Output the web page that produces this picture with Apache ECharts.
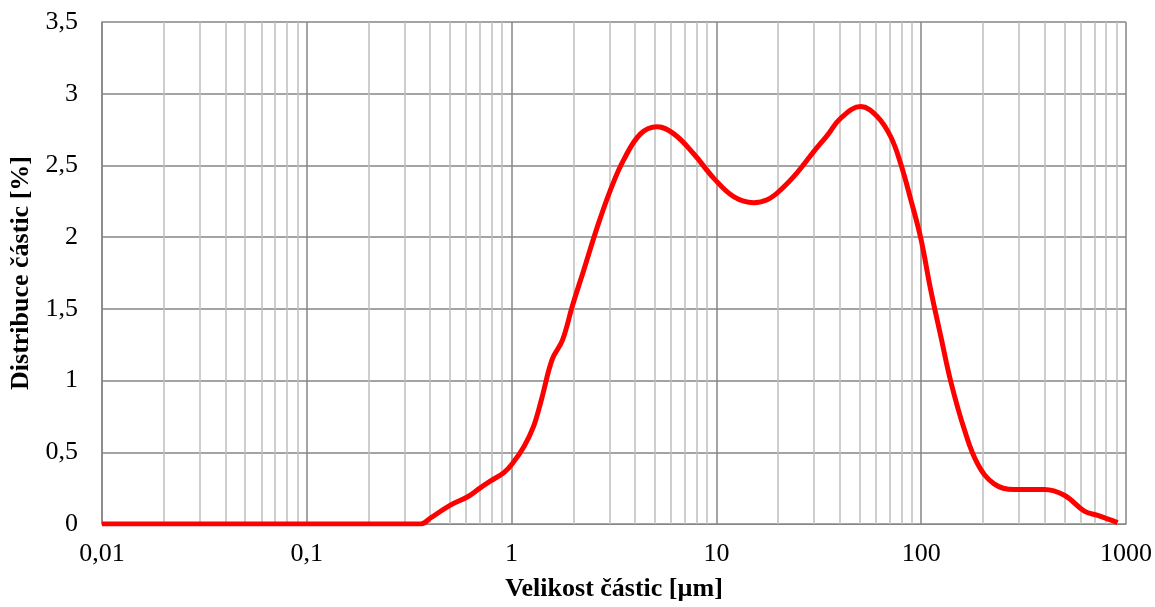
<!DOCTYPE html>
<html>
<head>
<meta charset="utf-8">
<script src="https://cdn.jsdelivr.net/npm/echarts@6/dist/echarts.min.js"></script>
<style>
  html, body { margin: 0; padding: 0; background: #fff; }
  #chart { width: 1155px; height: 607px; }
</style>
</head>
<body>
<div id="chart"></div>
<script>
// velikost částic [µm] a distribuce [%]
var velikost = [0.01, 0.36, 0.40, 0.50, 0.61, 0.70, 0.79, 0.92, 1.02, 1.15, 1.28, 1.40, 1.58, 1.77, 1.98,
  2.25, 2.62, 3.04, 3.53, 4.26, 5.14, 6.20, 7.76, 9.72, 12.2, 15.2, 17.7, 20.6, 24.8, 30.0,
  34.8, 40.5, 50.7, 61.1, 71.0, 79.5, 89.0, 99.6, 111, 125, 139.6, 162.3, 188.5, 227, 284, 399,
  500, 626, 728, 910];
var distribuce = [0, 0, 0.04, 0.13, 0.19, 0.25, 0.30, 0.36, 0.43, 0.54, 0.68, 0.87, 1.15, 1.28, 1.52,
  1.77, 2.07, 2.33, 2.54, 2.72, 2.77, 2.72, 2.58, 2.41, 2.28, 2.24, 2.26, 2.33, 2.45, 2.60,
  2.71, 2.83, 2.91, 2.84, 2.70, 2.51, 2.26, 1.99, 1.64, 1.30, 0.99, 0.66, 0.42, 0.28, 0.24, 0.24,
  0.20, 0.09, 0.06, 0.01];
var osaX = { min: 0.01, max: 1000 };
var osaY = { min: 0, max: 3.5, interval: 0.5 };

var body = [];
for (var i = 0; i < velikost.length; i++) {
  body.push([velikost[i], distribuce[i]]);
}

function carka(v) {
  return String(Number(v.toPrecision(6))).replace('.', ',');
}

var font = '"Liberation Serif", "Times New Roman", serif';
var myChart = echarts.init(document.getElementById('chart'));
var option = {
  backgroundColor: '#fff',
  animation: false,
  grid: { left: 102, right: 29, top: 22, bottom: 83, containLabel: false, outerBoundsMode: 'none' },
  xAxis: {
    type: 'log',
    logBase: 10,
    min: osaX.min,
    max: osaX.max,
    name: 'Velikost částic [µm]',
    nameLocation: 'middle',
    nameGap: 52,
    nameTextStyle: { fontFamily: font, fontSize: 26, fontWeight: 'bold', color: '#000' },
    axisLine: { show: true, lineStyle: { color: '#868686', width: 1 } },
    axisTick: { show: false },
    axisLabel: { formatter: carka, fontFamily: font, fontSize: 26, color: '#000', margin: 17 },
    splitLine: { show: true, lineStyle: { color: '#868686', width: 1.5 } },
    minorTick: { show: false, splitNumber: 9 },
    minorSplitLine: { show: true, lineStyle: { color: '#bfbfbf', width: 1.5 } }
  },
  yAxis: {
    type: 'value',
    min: osaY.min,
    max: osaY.max,
    interval: osaY.interval,
    name: 'Distribuce částic [%]',
    nameLocation: 'middle',
    nameGap: 65,
    nameTextStyle: { fontFamily: font, fontSize: 26, fontWeight: 'bold', color: '#000' },
    axisLine: { show: true, lineStyle: { color: '#868686', width: 1.5 } },
    axisTick: { show: false },
    axisLabel: { formatter: carka, fontFamily: font, fontSize: 26, color: '#000', margin: 24 },
    splitLine: { show: true, lineStyle: { color: '#868686', width: 1.5 } }
  },
  series: [{
    type: 'line',
    data: body,
    showSymbol: false,
    symbol: 'none',
    smooth: 0.4,
    lineStyle: { color: '#ff0000', width: 5 },
    z: 5
  }]
};
myChart.setOption(option);
window.addEventListener('resize', function () {
  myChart.resize();
});
</script>
</body>
</html>
